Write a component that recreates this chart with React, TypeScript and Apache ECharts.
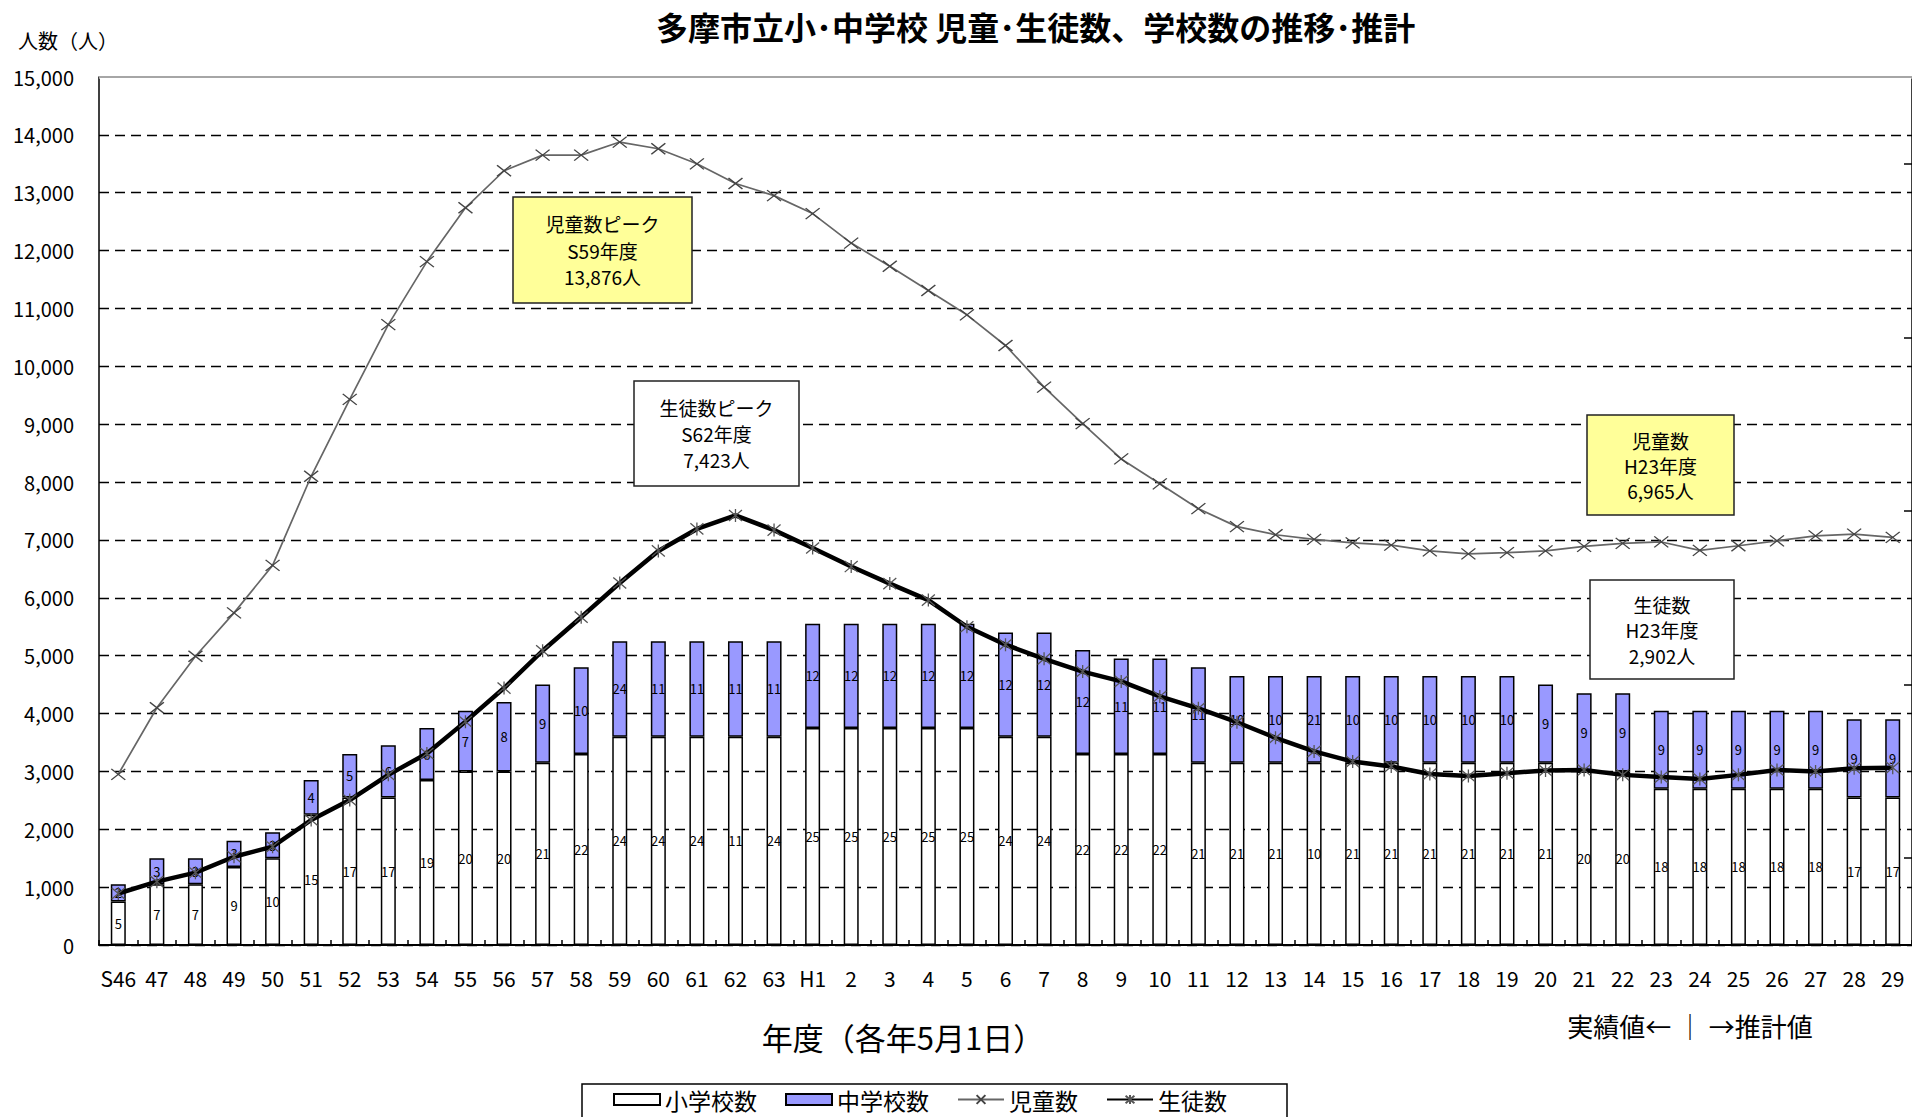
import React, { useEffect, useRef } from "react";
import * as echarts from "echarts";

const categories = [
  "S46", "47", "48", "49", "50", "51", "52", "53", "54", "55", "56", "57", "58", "59", "60", "61", "62", "63",
  "H1", "2", "3", "4", "5", "6", "7", "8", "9", "10", "11", "12", "13", "14", "15", "16", "17", "18", "19", "20",
  "21", "22", "23", "24", "25", "26", "27", "28", "29",
];

// 小学校数 (schools)
const elementarySchools = [
  5, 7, 7, 9, 10, 15, 17, 17, 19, 20, 20, 21, 22, 24, 24, 24, 24, 24,
  25, 25, 25, 25, 25, 24, 24, 22, 22, 22, 21, 21, 21, 21, 21, 21, 21, 21, 21, 21,
  20, 20, 18, 18, 18, 18, 18, 17, 17,
];
// 中学校数 (schools)
const juniorSchools = [
  2, 3, 3, 3, 3, 4, 5, 6, 6, 7, 8, 9, 10, 11, 11, 11, 11, 11,
  12, 12, 12, 12, 12, 12, 12, 12, 11, 11, 11, 10, 10, 10, 10, 10, 10, 10, 10, 9,
  9, 9, 9, 9, 9, 9, 9, 9, 9,
];
// label texts as printed on the bars
const elementaryLabels = [
  "5", "7", "7", "9", "10", "15", "17", "17", "19", "20", "20", "21", "22", "24", "24", "24", "11", "24",
  "25", "25", "25", "25", "25", "24", "24", "22", "22", "22", "21", "21", "21", "10", "21", "21", "21", "21", "21", "21",
  "20", "20", "18", "18", "18", "18", "18", "17", "17",
];
const juniorLabels = [
  "2", "3", "3", "3", "3", "4", "5", "6", "6", "7", "8", "9", "10", "24", "11", "11", "11", "11",
  "12", "12", "12", "12", "12", "12", "12", "12", "11", "11", "11", "10", "10", "21", "10", "10", "10", "10", "10", "9",
  "9", "9", "9", "9", "9", "9", "9", "9", "9",
];
// 児童数
const children = [
  2950, 4100, 4990, 5740, 6560, 8100, 9430, 10720, 11810, 12740, 13380, 13650, 13650, 13876, 13760, 13500, 13160, 12950,
  12640, 12130, 11730, 11310, 10890, 10360, 9640, 9010, 8400, 7970, 7540, 7230, 7090, 7010, 6950, 6910, 6810, 6760, 6780, 6810,
  6890, 6940, 6965, 6820, 6900, 6985, 7070, 7100, 7045,
];
// 生徒数
const students = [
  890, 1095, 1250, 1525, 1700, 2160, 2505, 2940, 3310, 3860, 4440, 5085, 5665, 6255, 6810, 7190, 7423, 7170,
  6860, 6540, 6245, 5960, 5500, 5190, 4945, 4725, 4555, 4295, 4090, 3850, 3580, 3345, 3170, 3085, 2955, 2920, 2970, 3015,
  3025, 2940, 2902, 2870, 2940, 3025, 3000, 3055, 3065,
];

const yTicks = { min: 0, max: 15000, interval: 1000 };
const schoolAxis = { min: 0, max: 100, ticks: [10, 30, 50, 70, 90] };

const JP = '"Noto Sans CJK JP", "Noto Sans", sans-serif';
const X_PATH = "path://M0 0L12 10M12 0L0 10";
const AST_PATH = "path://M0 0L12 12M12 0L0 12M6 -1L6 13";

function annotation(x: number, y: number, w: number, h: number, fill: string, text: string, lh: number) {
  return {
    type: "group",
    z: 50,
    children: [
      { type: "rect", z: 50, shape: { x, y, width: w, height: h }, style: { fill, stroke: "#222", lineWidth: 1.5 } },
      {
        type: "text",
        z: 51,
        x: x + w / 2,
        y: y + h / 2,
        style: {
          text,
          align: "center",
          verticalAlign: "middle",
          fontSize: 19,
          lineHeight: lh,
          fontFamily: JP,
          fill: "#000",
        },
      },
    ],
  };
}

export default function App() {
  const ref = useRef<HTMLDivElement>(null);
  useEffect(() => {
    if (!ref.current) return;
    const chart = echarts.init(ref.current, null, { renderer: "svg" });
    const barLabel = (labels: string[]) => ({
      show: true,
      position: "inside",
      formatter: (p: any) => labels[p.dataIndex],
      fontSize: 13,
      color: "#000",
      fontFamily: JP,
    });
    const option: any = {
      animation: false,
      backgroundColor: "#fff",
      title: {
        text: "多摩市立小･中学校 児童･生徒数、学校数の推移･推計",
        left: 656,
        top: 10,
        padding: 0,
        textStyle: { fontFamily: JP, fontSize: 32, fontWeight: "bold", color: "#000" },
      },
      grid: { left: 99, top: 77, width: 1817, height: 868 },
      legend: {
        left: 582,
        top: 1084,
        orient: "horizontal",
        backgroundColor: "#fff",
        borderColor: "#000",
        borderWidth: 1.5,
        padding: [4, 60, 30, 31],
        itemGap: 28,
        itemWidth: 46,
        itemHeight: 11,
        textStyle: { fontFamily: JP, fontSize: 23, color: "#000" },
        data: [
          { name: "小学校数", icon: "rect" },
          { name: "中学校数", icon: "rect" },
          { name: "児童数" },
          { name: "生徒数" },
        ],
      },
      xAxis: {
        type: "category",
        data: categories,
        boundaryGap: true,
        axisLine: { lineStyle: { color: "#000", width: 2 } },
        axisTick: { show: true, inside: true, length: 5, interval: 0, lineStyle: { color: "#000", width: 1.5 } },
        axisLabel: { interval: 0, margin: 22, fontSize: 21, color: "#000", fontFamily: JP },
        z: 10,
      },
      yAxis: [
        {
          type: "value",
          min: yTicks.min,
          max: yTicks.max,
          interval: yTicks.interval,
          axisLine: { show: true, lineStyle: { color: "#000", width: 1.5 } },
          axisTick: { show: false },
          axisLabel: {
            margin: 25,
            fontSize: 20,
            color: "#000",
            fontFamily: JP,
            formatter: (v: number) => v.toLocaleString("en-US"),
          },
          splitLine: { show: true, showMaxLine: false, lineStyle: { color: "#000", width: 1.4, type: [10, 6] } },
        },
        {
          type: "value",
          min: schoolAxis.min,
          max: schoolAxis.max,
          position: "right",
          axisLine: { show: true, lineStyle: { color: "#000", width: 1.5 } },
          axisTick: {
            show: true,
            inside: true,
            length: 8,
            customValues: schoolAxis.ticks,
            lineStyle: { color: "#000", width: 1.5 },
          },
          axisLabel: { show: false },
          splitLine: { show: false },
        },
      ],
      series: [
        {
          name: "小学校数",
          type: "bar",
          yAxisIndex: 1,
          stack: "schools",
          data: elementarySchools,
          barWidth: 15,
          itemStyle: { color: "#ffffff", borderColor: "#000", borderWidth: 1.5 },
          label: barLabel(elementaryLabels),
          z: 2,
        },
        {
          name: "中学校数",
          type: "bar",
          yAxisIndex: 1,
          stack: "schools",
          data: juniorSchools,
          barWidth: 15,
          itemStyle: { color: "#9999FF", borderColor: "#000", borderWidth: 1.5 },
          label: barLabel(juniorLabels),
          z: 2,
        },
        {
          name: "児童数",
          type: "line",
          data: children,
          symbol: X_PATH,
          symbolSize: [14, 11],
          showAllSymbol: true,
          lineStyle: { color: "#666", width: 1.7 },
          itemStyle: { color: "#444", borderColor: "#444", borderWidth: 1.3 },
          z: 5,
        },
        {
          name: "生徒数",
          type: "line",
          data: students,
          symbol: AST_PATH,
          symbolSize: [13, 13],
          showAllSymbol: true,
          lineStyle: { color: "#000", width: 4.5 },
          itemStyle: { color: "#555", borderColor: "#555", borderWidth: 1.3 },
          z: 6,
        },
      ],
      graphic: [
        { type: "line", z: 60, shape: { x1: 99, y1: 77, x2: 1912, y2: 77 }, style: { stroke: "#fff", lineWidth: 3 } },
        { type: "line", z: 61, shape: { x1: 99, y1: 77, x2: 1912, y2: 77 }, style: { stroke: "#888", lineWidth: 1.3 } },
        {
          type: "text",
          z: 60,
          x: 68,
          y: 40,
          style: { text: "人数（人）", align: "center", verticalAlign: "middle", fontSize: 20, fontFamily: JP, fill: "#000" },
        },
        {
          type: "text",
          z: 60,
          x: 903,
          y: 1036,
          style: { text: "年度（各年5月1日）", align: "center", verticalAlign: "middle", fontSize: 31, fontFamily: JP, fill: "#000" },
        },
        {
          type: "text",
          z: 60,
          x: 1690,
          y: 1025,
          style: { text: "実績値← ｜ →推計値", align: "center", verticalAlign: "middle", fontSize: 26, fontFamily: JP, fill: "#000" },
        },
        annotation(513, 197, 179, 106, "#FFFF99", "児童数ピーク\nS59年度\n13,876人", 26.5),
        annotation(634, 381, 165, 105, "#FFFFFF", "生徒数ピーク\nS62年度\n7,423人", 26),
        annotation(1587, 415, 147, 100, "#FFFF99", "児童数\nH23年度\n6,965人", 25),
        annotation(1590, 580, 144, 99, "#FFFFFF", "生徒数\nH23年度\n2,902人", 25.5),
      ],
    };
    chart.setOption(option);
    return () => chart.dispose();
  }, []);
  return (
    <div
      ref={ref}
      style={{ position: "fixed", left: 0, top: 0, width: 1912, height: 1117, background: "#fff" }}
    />
  );
}
